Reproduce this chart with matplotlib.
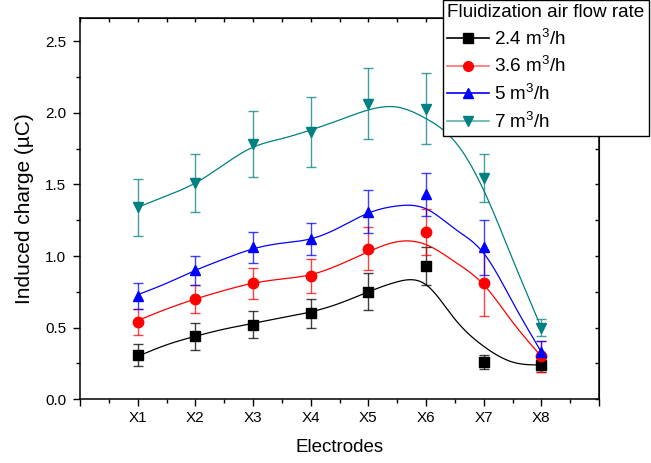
import numpy as np
import matplotlib
matplotlib.use("Agg")
import matplotlib.pyplot as plt
from matplotlib.lines import Line2D
from matplotlib.ticker import MultipleLocator

plt.rcParams['font.family'] = ['Liberation Sans', 'DejaVu Sans']
plt.rcParams['mathtext.fontset'] = 'custom'
plt.rcParams['mathtext.rm'] = 'Liberation Sans'

# ---------------- data ----------------
electrodes = ["X1", "X2", "X3", "X4", "X5", "X6", "X7", "X8"]
series_labels = [r"2.4 m$^3$/h", r"3.6 m$^3$/h", r"5 m$^3$/h", r"7 m$^3$/h"]

q_24 = [0.31, 0.44, 0.52, 0.60, 0.75, 0.93, 0.26, 0.24]
e_24 = [0.075, 0.095, 0.095, 0.10, 0.13, 0.135, 0.05, 0.05]
q_36 = [0.54, 0.70, 0.81, 0.86, 1.05, 1.17, 0.81, 0.30]
e_36 = [0.09, 0.095, 0.11, 0.12, 0.15, 0.16, 0.23, 0.11]
q_5 = [0.72, 0.90, 1.06, 1.12, 1.31, 1.43, 1.06, 0.33]
e_5 = [0.09, 0.10, 0.11, 0.11, 0.15, 0.15, 0.19, 0.08]
q_7 = [1.34, 1.51, 1.78, 1.865, 2.065, 2.03, 1.545, 0.50]
e_7 = [0.20, 0.20, 0.23, 0.245, 0.245, 0.25, 0.165, 0.06]

# smoothed fit curves (knot positions along electrode axis)
fit_x = [1, 1.5, 2, 2.5, 3, 3.5, 4, 4.5, 5, 5.5, 6, 6.5, 7, 7.5, 8]
fit_24 = [0.30, 0.38, 0.44, 0.49, 0.53, 0.57, 0.61, 0.67, 0.75, 0.82, 0.80, 0.56, 0.37, 0.26, 0.24]
fit_36 = [0.55, 0.63, 0.70, 0.76, 0.81, 0.84, 0.87, 0.94, 1.03, 1.10, 1.08, 0.96, 0.80, 0.54, 0.30]
fit_5 = [0.73, 0.81, 0.90, 0.98, 1.05, 1.09, 1.12, 1.20, 1.30, 1.35, 1.33, 1.19, 1.02, 0.68, 0.33]
fit_7 = [1.34, 1.42, 1.51, 1.64, 1.76, 1.82, 1.88, 1.95, 2.02, 2.04, 1.96, 1.80, 1.46, 0.98, 0.50]


def natural_spline(xk, yk, xs):
    xk = np.asarray(xk, float); yk = np.asarray(yk, float)
    n = len(xk); h = np.diff(xk)
    A = np.zeros((n, n)); b = np.zeros(n)
    A[0, 0] = 1; A[-1, -1] = 1
    for i in range(1, n - 1):
        A[i, i - 1] = h[i - 1]; A[i, i] = 2 * (h[i - 1] + h[i]); A[i, i + 1] = h[i]
        b[i] = 3 * ((yk[i + 1] - yk[i]) / h[i] - (yk[i] - yk[i - 1]) / h[i - 1])
    c = np.linalg.solve(A, b)
    idx = np.clip(np.searchsorted(xk, xs) - 1, 0, n - 2)
    hi = h[idx]
    bb = (yk[idx + 1] - yk[idx]) / hi - hi * (2 * c[idx] + c[idx + 1]) / 3
    d = (c[idx + 1] - c[idx]) / (3 * hi)
    t = xs - xk[idx]
    return yk[idx] + bb * t + c[idx] * t ** 2 + d * t ** 3


colors = ["#000000", "#FF0000", "#0000FF", "#008080"]
legend_line_colors = ["#000000", "#FF7070", "#0000FF", "#5FB0B0"]
markers = ["s", "o", "^", "v"]
values = [q_24, q_36, q_5, q_7]
errors = [e_24, e_36, e_5, e_7]
fits = [fit_24, fit_36, fit_5, fit_7]

W, H = 651, 463
fig = plt.figure(figsize=(W / 100, H / 100), dpi=100)
ax = fig.add_axes([80 / W, 1 - 399.3 / H, (599 - 80) / W, (399.3 - 18.3) / H])

x = np.arange(1, len(electrodes) + 1)
xs = np.linspace(1, 8, 400)
for vals, errs, fit, col, mk in zip(values, errors, fits, colors, markers):
    ax.plot(xs, natural_spline(fit_x, fit, xs), color=col, lw=0.9, zorder=2)
    ax.errorbar(x, vals, yerr=errs, fmt='none', ecolor=col, elinewidth=1.0,
                capsize=3.6, capthick=1.0, alpha=0.75, zorder=3)
    ax.plot(x, vals, linestyle='none', marker=mk, color=col, markersize=7 if mk != 'o' else 7.5,
            zorder=4)

ax.set_xlim(0, 9)
ax.set_ylim(0, 2.66)
ax.set_xticks(range(0, 10))
ax.set_xticklabels([""] + electrodes + [""])
ax.xaxis.set_minor_locator(MultipleLocator(0.5))
ax.yaxis.set_major_locator(MultipleLocator(0.5))
ax.yaxis.set_minor_locator(MultipleLocator(0.25))
ax.tick_params(axis='both', which='major', direction='out', length=5, width=1, labelsize=11,
               top=False, right=False)
ax.tick_params(axis='y', which='major', pad=5)
ax.tick_params(axis='x', which='major', pad=3.5)
ax.tick_params(axis='both', which='minor', direction='out', length=3, width=1,
               top=False, right=False)
for sp in ax.spines.values():
    sp.set_linewidth(1.1)

# inward ticks on top and right
axt = ax.secondary_xaxis('top')
axt.set_xticks(range(0, 10))
axt.xaxis.set_minor_locator(MultipleLocator(0.5))
axt.tick_params(which='both', direction='in', length=3, width=1, labeltop=False)
axt.set_xticklabels([])
axr = ax.secondary_yaxis('right')
axr.yaxis.set_major_locator(MultipleLocator(0.5))
axr.yaxis.set_minor_locator(MultipleLocator(0.25))
axr.tick_params(which='both', direction='in', length=3, width=1, labelright=False)
axr.set_yticklabels([])

ax.set_xlabel("Electrodes", fontsize=13.5, labelpad=10)
ax.set_ylabel("Induced charge (\u00b5C)", fontsize=15, labelpad=8)

handles = [Line2D([0], [0], color=lc, lw=1.2, marker=mk, markersize=7, markerfacecolor=c,
                  markeredgecolor=c)
           for lc, c, mk in zip(legend_line_colors, colors, markers)]
leg = ax.legend(handles, series_labels, title="Fluidization air flow rate",
                loc='upper left', bbox_to_anchor=(443.3 / W, 1.0), bbox_transform=fig.transFigure,
                fontsize=13.6, title_fontsize=13.6, frameon=True, fancybox=False,
                edgecolor='black', framealpha=1, handlelength=2.2, handletextpad=0.25,
                labelspacing=0.36, borderpad=0.22, borderaxespad=0, alignment='left')
leg.get_frame().set_linewidth(1.0)

fig.savefig("out.png", dpi=100)
